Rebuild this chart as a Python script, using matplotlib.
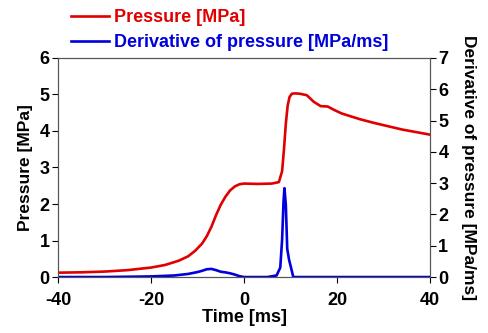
import matplotlib.pyplot as plt

plt.rcParams['font.family'] = ['Liberation Sans', 'DejaVu Sans']
plt.rcParams['font.weight'] = 'bold'
plt.rcParams['axes.labelweight'] = 'bold'
plt.rcParams['axes.unicode_minus'] = False
plt.rcParams['font.size'] = 13

# pressure curve
t_p = [-40, -35, -30, -25, -20, -17, -14, -12, -10.5, -9, -8, -7, -6, -5, -4, -3, -2, -1, 0, 3, 6, 7.5, 8.2, 8.6, 9.0, 9.4, 9.8, 10.3, 11, 12, 13.5, 15, 16.5, 18, 19.5, 21, 23, 25, 28, 31, 34, 37, 40]
p = [0.12, 0.13, 0.15, 0.19, 0.26, 0.33, 0.45, 0.57, 0.72, 0.92, 1.12, 1.38, 1.7, 1.98, 2.2, 2.37, 2.48, 2.54, 2.56, 2.55, 2.56, 2.6, 2.9, 3.5, 4.2, 4.7, 4.93, 5.02, 5.03, 5.02, 4.98, 4.8, 4.68, 4.67, 4.57, 4.48, 4.4, 4.32, 4.22, 4.13, 4.04, 3.97, 3.9]

# derivative of pressure
t_d = [-40, -30, -20, -15, -12, -10, -9, -8, -7, -6, -5, -4, -3, -2, -1, 0, 2, 5, 7, 7.8, 8.2, 8.5, 8.7, 9.0, 9.3, 9.7, 10.2, 10.6, 12, 20, 40]
dp = [0.0, 0.0, 0.02, 0.05, 0.1, 0.16, 0.2, 0.25, 0.26, 0.22, 0.17, 0.15, 0.12, 0.08, 0.03, 0.0, 0.0, 0.0, 0.05, 0.3, 1.2, 2.4, 2.84, 2.3, 0.9, 0.55, 0.25, 0.0, 0.0, 0.0, 0.0]

fig, ax = plt.subplots(figsize=(4.88, 3.33), dpi=100)
fig.subplots_adjust(left=0.119, right=0.881, top=0.826, bottom=0.168)
ax2 = ax.twinx()

l1, = ax.plot(t_p, p, color='#e00000', lw=1.9, label='Pressure [MPa]')
l2, = ax2.plot(t_d, dp, color='#0000dd', lw=1.9, label='Derivative of pressure [MPa/ms]')

ax.set_xlim(-40, 40)
ax.set_ylim(0, 6)
ax2.set_ylim(0, 7)
ax.set_xticks([-40, -20, 0, 20, 40])
ax.set_yticks(range(0, 7))
ax2.set_yticks(range(0, 8))

ax.set_xlabel('Time [ms]', labelpad=0)
ax.set_ylabel('Pressure [MPa]', labelpad=5, fontsize=12.5)
ax2.set_ylabel('Derivative of pressure [MPa/ms]', rotation=270, labelpad=20, fontsize=12.5)

for a in (ax, ax2):
    a.tick_params(direction='out', length=4, width=0.8, pad=2)
    for s in a.spines.values():
        s.set_color('#555555')
ax.tick_params(axis='x', pad=7)

leg = fig.legend(handles=[l1, l2], loc='upper left', bbox_to_anchor=(0.13, 0.995),
                 frameon=False, handlelength=2.1, handletextpad=0.3, labelspacing=0.45,
                 borderaxespad=0, fontsize=13)
for txt, c in zip(leg.get_texts(), ['#e00000', '#0000dd']):
    txt.set_color(c)

fig.savefig('out.png', dpi=100)
